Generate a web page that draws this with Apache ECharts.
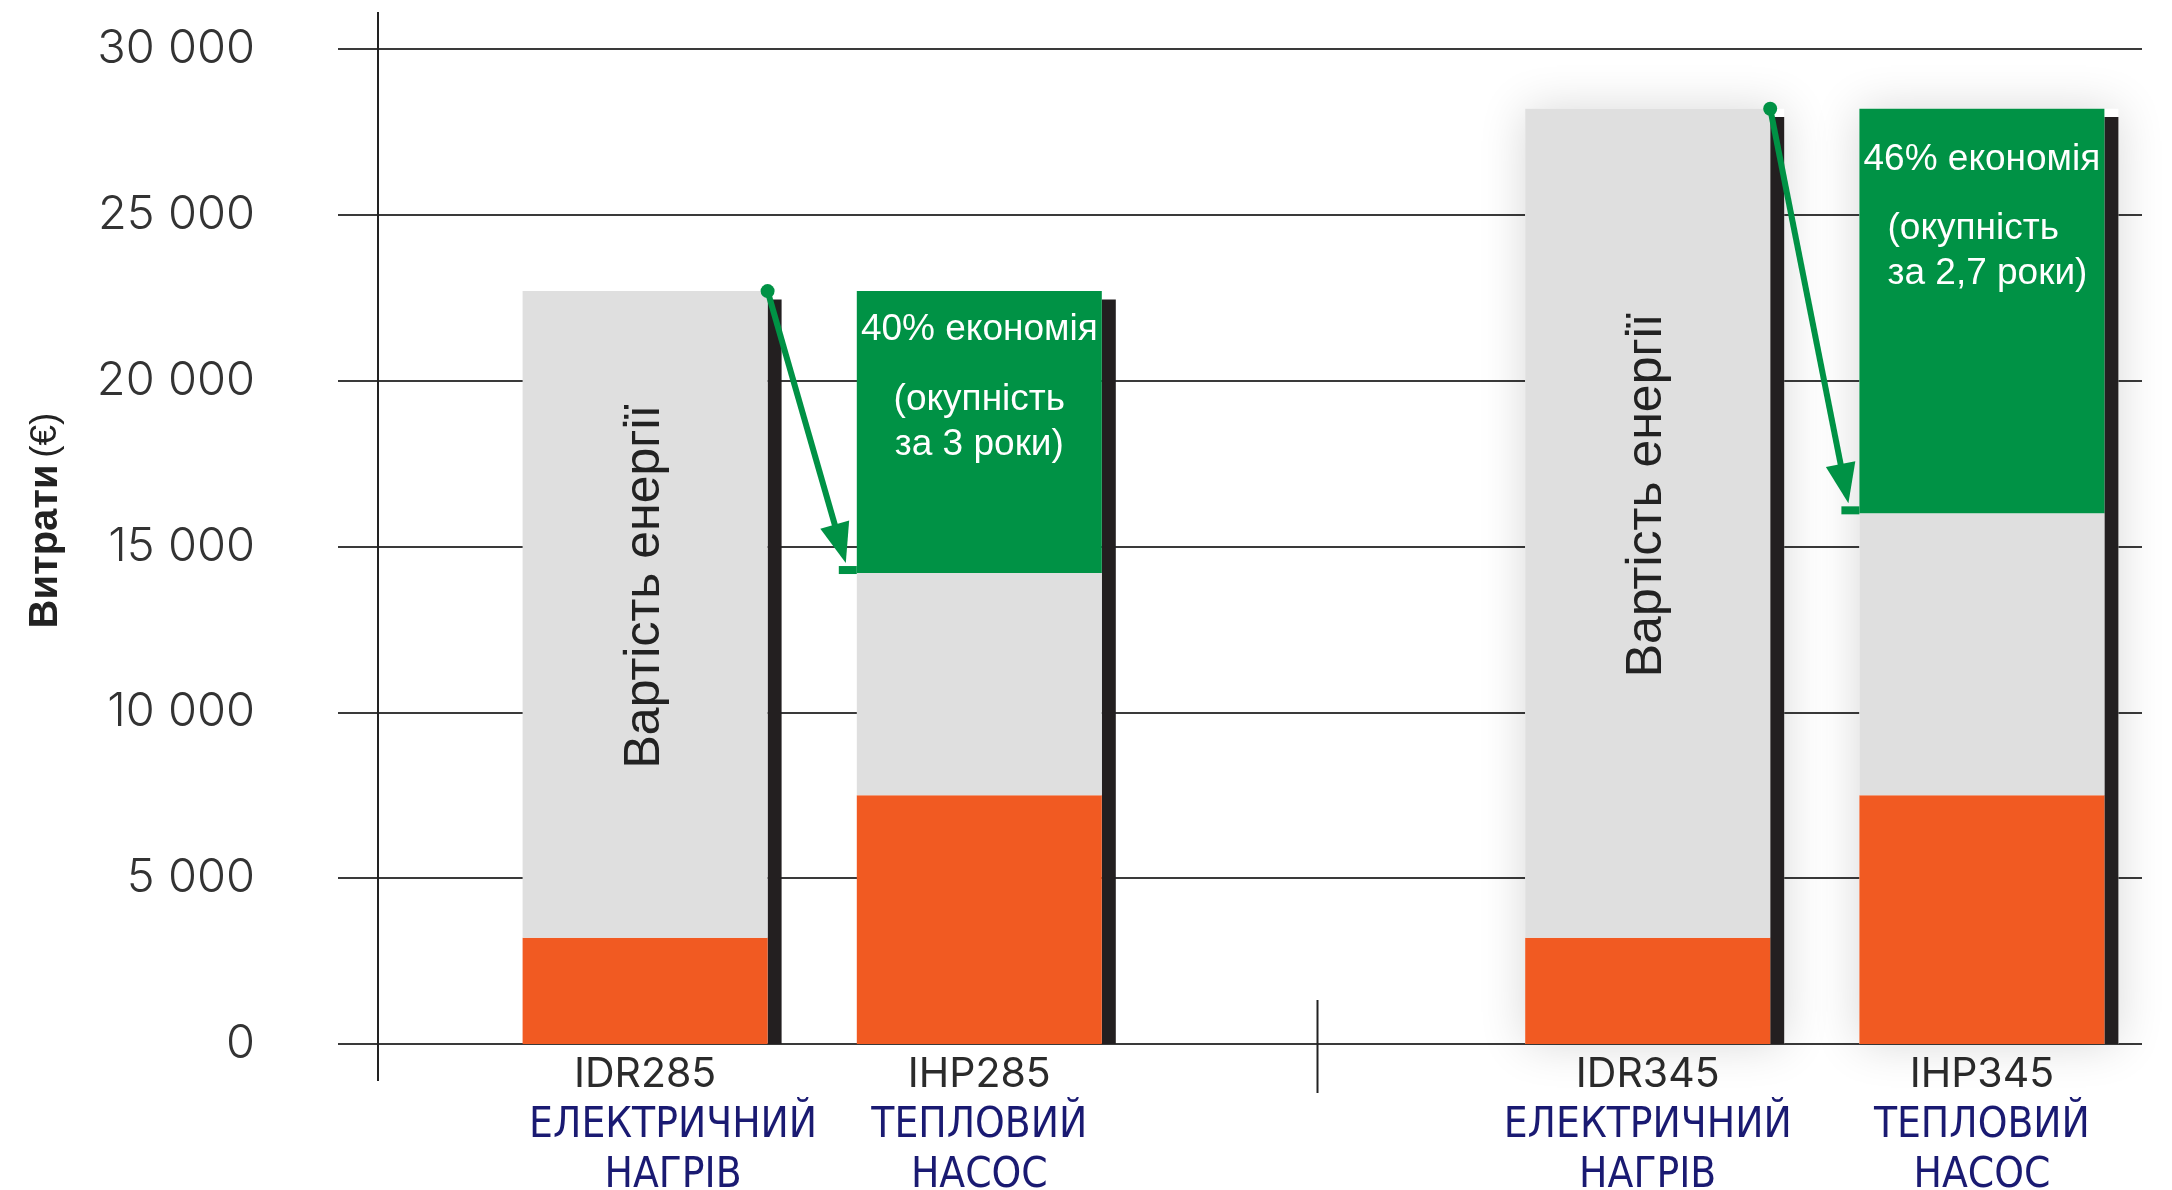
<!DOCTYPE html>
<html>
<head>
<meta charset="utf-8">
<script src="https://cdn.jsdelivr.net/npm/echarts@6/dist/echarts.min.js"></script>
<style>
html,body{margin:0;padding:0;background:#fff;}
#chart{width:2172px;height:1190px;}
</style>
</head>
<body>
<div id="chart"></div>
<script>
// ---- data ----
const categories = ['IDR285', 'IHP285', '', 'IDR345', 'IHP345'];
const heaterTypes = [['ЕЛЕКТРИЧНИЙ', 'НАГРІВ'], ['ТЕПЛОВИЙ', 'НАСОС'], [], ['ЕЛЕКТРИЧНИЙ', 'НАГРІВ'], ['ТЕПЛОВИЙ', 'НАСОС']];
const purchaseCost = [3200, 7500, null, 3200, 7500];
const energyCost = [19500, 6700, null, 25000, 8500];
const savings = [null, 8500, null, null, 12200];
const energyLabels = ['Вартість енергії', '', '', 'Вартість енергії', ''];
const savingsText = [null, ['40% економія', '(окупність', 'за 3 роки)'], null, null, ['46% економія', '(окупність', 'за 2,7 роки)']];
const stripTop = [22450, 22450, null, 27950, 27950];
const comparisons = [[0, 1], [3, 4]];
const yMin = 0, yMax = 30000, yStep = 5000;
const yAxisTitle = 'Витрати';
const yAxisUnit = '(€)';

// ---- style constants ----
const BAR_W = 245, STRIP_W = 14;
const ORANGE = '#f15a22', GRAY = '#dfdfdf', GREEN = '#009245', BLACK = '#231f20', NAVY = '#1a1a72';
const GRID0_LEFT = 478, GRID0_RIGHT = 23, GRID1_LEFT = 338, GRID1_RIGHT = 30, TOP = 49, BOTTOM = 146;

const chart = echarts.init(document.getElementById('chart'), null, {renderer: 'canvas'});

const total = i => (purchaseCost[i] || 0) + (energyCost[i] || 0) + (savings[i] || 0);

const energyData = energyCost.map((v, i) => ({
  value: v,
  label: {show: !!energyLabels[i], formatter: energyLabels[i]}
}));
const savingsData = savings.map((v, i) => {
  if (!savingsText[i]) return {value: v, label: {show: false}};
  const lastGroup = i === categories.length - 1;
  const s = lastGroup ? 'u' : 's';
  return {
    value: v,
    label: {
      show: true,
      distance: lastGroup ? 31 : 19,
      formatter: '{t|' + savingsText[i][0] + '}\n{g| }\n{' + s + '|' + savingsText[i][1] + '}\n{' + s + '|' + savingsText[i][2] + '}'
    }
  };
});
const stripData = [];
stripTop.forEach((v, i) => { if (v != null) stripData.push([i, v, total(i)]); });
const arrowData = comparisons.map(([a, b]) => [a, purchaseCost[a] + energyCost[a], b, purchaseCost[b] + energyCost[b]]);

const labelFont = '"Liberation Sans", Arial, sans-serif';
const option = {
  animation: false,
  backgroundColor: '#fff',
  grid: [
    {left: GRID0_LEFT, right: GRID0_RIGHT, top: TOP, bottom: BOTTOM, containLabel: false, outerBoundsMode: 'none'},
    {left: GRID1_LEFT, right: GRID1_RIGHT, top: TOP, bottom: BOTTOM, containLabel: false, outerBoundsMode: 'none'}
  ],
  xAxis: [
    {
      type: 'category', gridIndex: 0, data: categories,
      axisLine: {show: false}, axisTick: {show: false},
      axisLabel: {
        interval: 0, margin: 5,
        formatter: (v, i) => {
          const t = heaterTypes[i] || [];
          if (!v) return '';
          const b = i === 0 ? 'c' : 'b';
          return '{a|' + v + '}\n{' + b + '|' + t[0] + '}\n{' + b + '|' + t[1] + '}';
        },
        rich: {
          a: {fontFamily: 'Inter, Lato, sans-serif', fontSize: 41, color: '#2b2b2b', lineHeight: 52},
          b: {fontFamily: '"Liberation Sans Narrow", "DejaVu Sans Condensed", sans-serif', fontSize: 42, color: NAVY, lineHeight: 50},
          c: {fontFamily: '"Liberation Sans Narrow", "DejaVu Sans Condensed", sans-serif', fontSize: 42, color: NAVY, lineHeight: 50, padding: [0, 0, 0, 56]}
        }
      }
    },
    {type: 'value', gridIndex: 1, show: false, min: 0, max: 1}
  ],
  yAxis: [
    {type: 'value', gridIndex: 0, min: yMin, max: yMax, interval: yStep, show: false},
    {
      type: 'value', gridIndex: 1, min: yMin, max: yMax, interval: yStep,
      axisLine: {show: false}, axisTick: {show: false},
      splitLine: {lineStyle: {color: '#3a3a3a', width: 2}},
      axisLabel: {
        margin: 83, fontFamily: 'Inter, Lato, sans-serif', fontWeight: 300, fontSize: 47, color: '#333',
        formatter: v => String(v).replace(/\B(?=(\d{3})+(?!\d))/g, ' ')
      },
      name: '{b|' + yAxisTitle + '}  {n|' + yAxisUnit + '}',
      nameLocation: 'middle', nameRotate: 90, nameGap: 272,
      nameTextStyle: {
        padding: [0, 0, 0, 52],
        rich: {
          b: {fontFamily: labelFont, fontWeight: 'bold', fontSize: 40, color: '#222'},
          n: {fontFamily: labelFont, fontSize: 37, color: '#222'}
        }
      }
    }
  ],
  series: [
    {
      name: 'strips', type: 'custom', xAxisIndex: 0, yAxisIndex: 0, z: 1,
      encode: {x: 0, y: [1, 2]},
      data: stripData,
      renderItem: (params, api) => {
        const i = api.value(0);
        const pTop = api.coord([i, api.value(1)]);
        const pBase = api.coord([i, 0]);
        const pTot = api.coord([i, api.value(2)]);
        const xl = pTop[0] - BAR_W / 2;
        const children = [];
        if (i > 2) {
          children.push({type: 'rect', shape: {x: xl, y: pTot[1], width: BAR_W + STRIP_W, height: pBase[1] - pTot[1]},
            style: {fill: '#fff', shadowBlur: 45, shadowColor: 'rgba(0,0,0,0.16)'}});
        }
        children.push({type: 'rect', shape: {x: xl + BAR_W, y: pTop[1], width: STRIP_W, height: pBase[1] - pTop[1]},
          style: {fill: BLACK}});
        return {type: 'group', children};
      }
    },
    {
      name: 'Вартість покупки', type: 'bar', stack: 'c', barWidth: BAR_W, z: 2,
      itemStyle: {color: ORANGE},
      data: purchaseCost
    },
    {
      name: 'Вартість енергії', type: 'bar', stack: 'c', barWidth: BAR_W, z: 2,
      itemStyle: {color: GRAY},
      label: {
        position: 'inside', rotate: 90, offset: [28, 0],
        fontFamily: labelFont, fontSize: 50, color: '#222'
      },
      data: energyData
    },
    {
      name: 'Економія', type: 'bar', stack: 'c', barWidth: BAR_W, z: 2,
      itemStyle: {color: GREEN},
      label: {
        position: 'insideTop',
        rich: {
          t: {fontFamily: labelFont, fontSize: 37, color: '#fff', lineHeight: 40},
          g: {fontSize: 10, lineHeight: 27},
          s: {fontFamily: labelFont, fontSize: 37, color: '#fff', lineHeight: 45},
          u: {fontFamily: labelFont, fontSize: 37, color: '#fff', lineHeight: 45, align: 'left', padding: [0, 0, 0, 24]}
        }
      },
      data: savingsData
    },
    {
      name: 'arrows', type: 'custom', xAxisIndex: 0, yAxisIndex: 0, z: 3,
      encode: {x: [0, 2], y: [1, 3]},
      data: arrowData,
      renderItem: (params, api) => {
        const p1 = api.coord([api.value(0), api.value(1)]);
        p1[0] += BAR_W / 2;
        const p2 = api.coord([api.value(2), api.value(3)]);
        const bx = p2[0] - BAR_W / 2;
        const tip = [bx - 11, p2[1] - 10];
        const dx = tip[0] - p1[0], dy = tip[1] - p1[1];
        const len = Math.sqrt(dx * dx + dy * dy);
        const ux = dx / len, uy = dy / len;
        const headLen = 40, halfW = 15;
        const base = [tip[0] - ux * headLen, tip[1] - uy * headLen];
        const px = -uy, py = ux;
        return {
          type: 'group',
          children: [
            {type: 'line', shape: {x1: p1[0], y1: p1[1], x2: base[0] + ux * 4, y2: base[1] + uy * 4}, style: {stroke: GREEN, lineWidth: 6}},
            {type: 'polygon', shape: {points: [tip, [base[0] + px * halfW, base[1] + py * halfW], [base[0] - px * halfW, base[1] - py * halfW]]}, style: {fill: GREEN}},
            {type: 'circle', shape: {cx: p1[0], cy: p1[1], r: 7}, style: {fill: GREEN}},
            {type: 'rect', shape: {x: bx - 18, y: p2[1] - 7, width: 18, height: 8}, style: {fill: GREEN}}
          ]
        };
      }
    }
  ]
};
chart.setOption(option);

// decorative axis line and group separator, positioned from the axes
const yTop = chart.convertToPixel({yAxisIndex: 1}, yMax);
const yZero = chart.convertToPixel({yAxisIndex: 1}, yMin);
const sepX = chart.convertToPixel({xAxisIndex: 0}, 2);
chart.setOption({
  graphic: [
    {type: 'line', shape: {x1: GRID1_LEFT + 40, y1: yTop - 37, x2: GRID1_LEFT + 40, y2: yZero + 37}, style: {stroke: '#222', lineWidth: 2}, z: 5},
    {type: 'line', shape: {x1: sepX + 4, y1: yZero - 44, x2: sepX + 4, y2: yZero + 49}, style: {stroke: '#222', lineWidth: 2}, z: 5}
  ]
});
</script>
</body>
</html>
